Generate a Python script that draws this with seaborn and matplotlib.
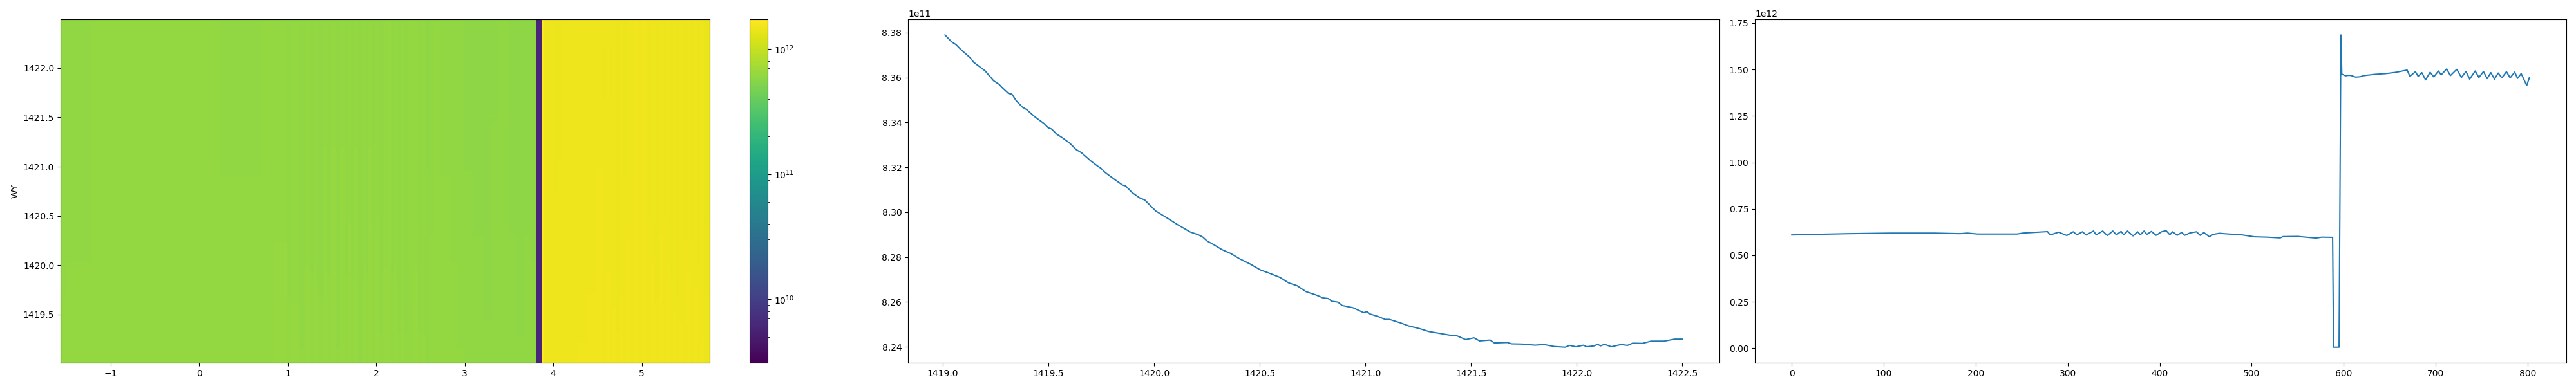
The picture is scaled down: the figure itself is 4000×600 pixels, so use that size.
import numpy as np
import matplotlib
matplotlib.use("Agg")
import matplotlib.pyplot as plt
from matplotlib.colors import LogNorm
import seaborn as sns

# time series: mean power per sample (units of 1e12)
sample_idx = [0, 15, 62, 108, 155, 183, 191, 202, 245, 251, 278,
              281, 290, 299, 306, 310, 316, 320, 328, 331, 338, 343, 349, 353, 358,
              361, 365, 371, 376, 379, 383, 386, 391, 396, 402, 407, 411, 414, 419,
              424, 427, 433, 440, 444, 448, 454, 458, 465, 475, 487, 494, 503, 517,
              531, 534, 550, 559, 570, 576, 588, 589, 595, 597, 598, 602, 606, 609,
              613, 618, 622, 634, 646, 657, 669, 672, 678, 681, 685, 689, 694, 698,
              703, 706, 712, 716, 723, 728, 733, 737, 743, 747, 752, 756, 760, 764,
              768, 772, 777, 781, 786, 789, 793, 799, 802]
sample_power = [0.610, 0.612, 0.617, 0.620, 0.620, 0.617, 0.620, 0.615, 0.615, 0.620, 0.628,
                0.610, 0.625, 0.607, 0.627, 0.611, 0.627, 0.610, 0.631, 0.611, 0.631, 0.607,
                0.631, 0.611, 0.629, 0.611, 0.631, 0.605, 0.627, 0.611, 0.631, 0.613, 0.629,
                0.608, 0.627, 0.633, 0.611, 0.627, 0.608, 0.624, 0.608, 0.621, 0.627, 0.608,
                0.623, 0.600, 0.613, 0.619, 0.615, 0.612, 0.607, 0.600, 0.598, 0.594, 0.601,
                0.602, 0.598, 0.593, 0.598, 0.597, 0.006, 0.006, 1.686, 1.475, 1.466, 1.469,
                1.466, 1.459, 1.461, 1.467, 1.474, 1.478, 1.485, 1.497, 1.463, 1.488, 1.463,
                1.483, 1.444, 1.485, 1.460, 1.492, 1.471, 1.503, 1.467, 1.501, 1.457, 1.489,
                1.448, 1.492, 1.457, 1.489, 1.451, 1.483, 1.448, 1.481, 1.455, 1.488, 1.455,
                1.486, 1.452, 1.478, 1.414, 1.457]

# spectrum: time-averaged power per frequency (units of 1e11)
freq = [1419.010, 1419.042, 1419.062, 1419.083, 1419.113, 1419.129, 1419.146, 1419.200,
        1419.240, 1419.266, 1419.281, 1419.311, 1419.327, 1419.347, 1419.377, 1419.397,
        1419.438, 1419.479, 1419.499, 1419.514, 1419.540, 1419.565, 1419.600, 1419.631,
        1419.656, 1419.702, 1419.733, 1419.748, 1419.768, 1419.814, 1419.850, 1419.865,
        1419.895, 1419.931, 1419.956, 1420.008, 1420.060, 1420.110, 1420.170, 1420.210,
        1420.230, 1420.250, 1420.286, 1420.321, 1420.362, 1420.403, 1420.454, 1420.504,
        1420.545, 1420.596, 1420.636, 1420.677, 1420.718, 1420.769, 1420.799, 1420.824,
        1420.840, 1420.870, 1420.890, 1420.941, 1420.992, 1421.007, 1421.022, 1421.063,
        1421.093, 1421.114, 1421.164, 1421.205, 1421.256, 1421.300, 1421.350, 1421.398,
        1421.433, 1421.474, 1421.514, 1421.540, 1421.590, 1421.610, 1421.671, 1421.692,
        1421.742, 1421.803, 1421.844, 1421.895, 1421.945, 1421.966, 1421.996, 1422.032,
        1422.047, 1422.083, 1422.098, 1422.113, 1422.131, 1422.164, 1422.210, 1422.240,
        1422.265, 1422.311, 1422.352, 1422.413, 1422.464, 1422.501]
freq_power = [8.3790, 8.3759, 8.3747, 8.3727, 8.3702, 8.3689, 8.3668, 8.3630,
              8.3586, 8.3570, 8.3555, 8.3529, 8.3526, 8.3497, 8.3468, 8.3457,
              8.3423, 8.3395, 8.3376, 8.3371, 8.3347, 8.3332, 8.3308, 8.3279,
              8.3265, 8.3227, 8.3205, 8.3196, 8.3177, 8.3145, 8.3121, 8.3117,
              8.3088, 8.3064, 8.3054, 8.3005, 8.2975, 8.2945, 8.2912, 8.2899,
              8.2889, 8.2872, 8.2853, 8.2833, 8.2816, 8.2793, 8.2769, 8.2742,
              8.2728, 8.2709, 8.2685, 8.2672, 8.2646, 8.2630, 8.2618, 8.2615,
              8.2603, 8.2599, 8.2584, 8.2574, 8.2552, 8.2557, 8.2546, 8.2534,
              8.2522, 8.2522, 8.2507, 8.2493, 8.2481, 8.2468, 8.2460, 8.2452,
              8.2449, 8.2432, 8.2440, 8.2426, 8.2430, 8.2417, 8.2419, 8.2413,
              8.2412, 8.2407, 8.2410, 8.2401, 8.2398, 8.2406, 8.2400, 8.2407,
              8.2400, 8.2404, 8.2411, 8.2404, 8.2411, 8.2400, 8.2410, 8.2406,
              8.2416, 8.2415, 8.2425, 8.2425, 8.2434, 8.2434]

# time axis of the waterfall (hours), start and step per sample
t_start = -1.565
t_step = 0.00913
# colour scale limits
c_min = 3.1e9
c_max = 1.73e12

t_hours = t_start + np.array(sample_idx) * t_step
ts = np.array(sample_power) * 1e12
spec = np.array(freq_power) * 1e11
# waterfall: time profile scaled by the relative spectrum shape
waterfall = np.outer(spec / spec.mean(), ts)

fig = plt.figure(figsize=(40, 6), dpi=100)
ax0 = fig.add_axes([0.0235, 0.06, 0.252, 0.89])
cax = fig.add_axes([0.291, 0.06, 0.007, 0.89])
ax1 = fig.add_axes([0.3525, 0.06, 0.315, 0.89])
ax2 = fig.add_axes([0.68125, 0.06, 0.315, 0.89])

mesh = ax0.pcolormesh(t_hours, np.array(freq), waterfall, shading="nearest",
                      cmap=sns.color_palette("viridis", as_cmap=True),
                      norm=LogNorm(vmin=c_min, vmax=c_max))
ax0.set_xlim(t_hours.min(), t_hours.max() + 0.01)
ax0.set_ylim(min(freq), 1422.495)
ax0.set_ylabel("WY")
fig.colorbar(mesh, cax=cax)

sns.lineplot(x=freq, y=spec, ax=ax1, color="#1f77b4", estimator=None, sort=False)
sns.lineplot(x=sample_idx, y=ts, ax=ax2, color="#1f77b4", estimator=None, sort=False)

fig.savefig("out.png", dpi=100)
